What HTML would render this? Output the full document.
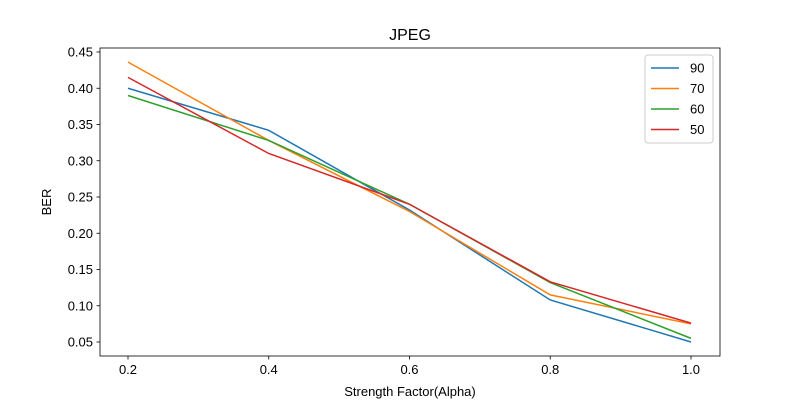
<!DOCTYPE html>
<html><head><meta charset="utf-8"><style>
body{margin:0;background:#fff;font-family:"Liberation Sans","DejaVu Sans",sans-serif;}
</style></head><body>
<svg id="chart" width="800" height="400" xmlns="http://www.w3.org/2000/svg">
<rect width="800" height="400" fill="#fff"/>
<text x="410" y="40" font-size="16" text-anchor="middle">JPEG</text>
<g id="axes"></g>
<g id="series"></g>
<rect x="100" y="48" width="620" height="308" fill="none" stroke="#000" stroke-width="0.8"/>
<text x="410" y="396" font-size="13" text-anchor="middle">Strength Factor(Alpha)</text>
<text x="51" y="202" font-size="13" text-anchor="middle" transform="rotate(-90 51 202)">BER</text>
<g id="legend"></g>
</svg>
<script>
const xValues=[0.2,0.4,0.6,0.8,1.0];
const seriesNames=["90","70","60","50"];
const s90=[0.400,0.342,0.232,0.108,0.050];
const s70=[0.436,0.328,0.230,0.115,0.075];
const s60=[0.390,0.328,0.240,0.132,0.055];
const s50=[0.415,0.310,0.240,0.133,0.076];
const xTicks=["0.2","0.4","0.6","0.8","1.0"];
const yTicks=["0.05","0.10","0.15","0.20","0.25","0.30","0.35","0.40","0.45"];
const colors=["#1f77b4","#ff7f0e","#2ca02c","#d62728"];
const allSeries=[s90,s70,s60,s50];
const NS="http://www.w3.org/2000/svg";
function xs(v){return 128+(v-0.2)/0.8*563;}
function ys(v){return 342-(v-0.05)/0.40*290;}
function mk(t,a,p){const e=document.createElementNS(NS,t);for(const k in a)e.setAttribute(k,a[k]);p.appendChild(e);return e;}
const axes=document.getElementById('axes');
xTicks.forEach(t=>{const x=xs(parseFloat(t));
 const l=mk('line',{x1:x,x2:x,y1:356,y2:359.5,stroke:'#000','stroke-width':0.8},axes);
 
 
 const tx=mk('text',{x:x,y:374,'font-size':13,'text-anchor':'middle'},axes);tx.textContent=t;
 
 });
yTicks.forEach(t=>{const y=ys(parseFloat(t));
 const l=mk('line',{x1:96.5,x2:100,y1:y,y2:y,stroke:'#000','stroke-width':0.8},axes);
 
 
 const tx=mk('text',{x:93,y:y+4.5,'font-size':13,'text-anchor':'end'},axes);tx.textContent=t;
 
 });
const sg=document.getElementById('series');
allSeries.forEach((s,i)=>{const pts=s.map((v,j)=>xs(xValues[j])+','+ys(v)).join(' ');
 const p=mk('polyline',{points:pts,fill:'none',stroke:colors[i],'stroke-width':1.5},sg);
 
 });
const lg=document.getElementById('legend');
const box=mk('rect',{x:645,y:55,width:68,height:88,rx:3,fill:'#fff',stroke:'#ccc','stroke-width':1},lg);


seriesNames.forEach((n,i)=>{const y=68+i*20.5;
 const l=mk('line',{x1:651,x2:679,y1:y,y2:y,stroke:colors[i],'stroke-width':1.5},lg);
 
 
 const t=mk('text',{x:690,y:y+4.5,'font-size':13},lg);t.textContent=n;
 
 });
</script>
</body></html>
